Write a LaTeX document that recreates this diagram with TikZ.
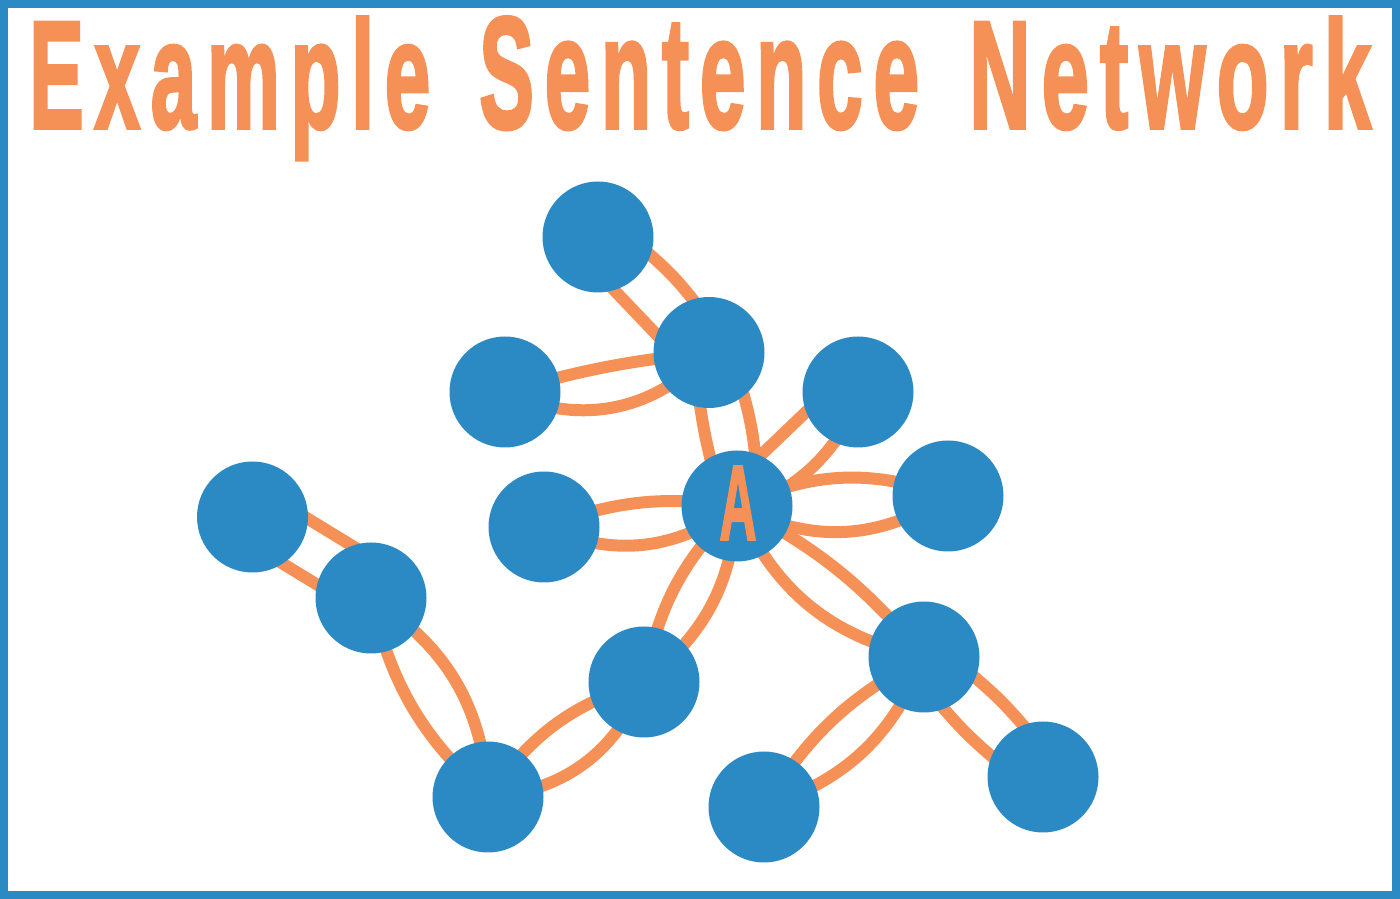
\documentclass[tikz,border=0pt]{standalone}
\usepackage{fontspec}
\setmainfont{Liberation Sans}
\newfontfamily\titlefont{Liberation Sans}[LetterSpace=13,FakeBold=2.5]
\newfontfamily\labelfont{Liberation Sans}[FakeBold=2.5]
\definecolor{netorange}{RGB}{245,145,86}
\definecolor{netblue}{RGB}{43,137,196}
\pgfdeclarelayer{edgelayer}
\pgfsetlayers{edgelayer,main}
\begin{document}
\begin{tikzpicture}[x=1pt,y=1pt,
  dot/.style={circle,fill=netblue,minimum size=111pt,inner sep=0pt},
  ln/.style={draw=netorange,line width=12pt},
  sl/.style={draw=netorange,line width=12pt,shorten <=-15pt,shorten >=-15pt},
  word/.style={anchor=base west,inner sep=0pt,text=netorange},
  frame/.style={draw=netblue,line width=8pt}]
\useasboundingbox (0,0) rectangle (1400,899);
\draw[frame] (4,4) rectangle (1396,895);
% title
\node[word] (w1) at (29,771) {\resizebox{401pt}{111pt}{\titlefont\bfseries Example}};
\node[word] (w2) at (479,771) {\resizebox{440pt}{111pt}{\titlefont\bfseries Sentence}};
\node[word] (w3) at (969,771) {\resizebox{402pt}{111pt}{\titlefont\bfseries Network}};
% nodes
\node[dot] (n1) at (598,662) {};
\node[dot] (n2) at (709,546.5) {};
\node[dot] (n3) at (505,507) {};
\node[dot] (n4) at (858,507) {};
\node[dot] (nA) at (737,393) {};
\node[dot] (n6) at (544,372) {};
\node[dot] (n7) at (948,403) {};
\node[dot] (n8) at (252.5,382) {};
\node[dot] (n9) at (371,301) {};
\node[dot] (n10) at (644,217) {};
\node[dot] (n11) at (924,242) {};
\node[dot] (n12) at (488,102) {};
\node[dot] (n13) at (764,92) {};
\node[dot] (n14) at (1043,122) {};
\node[inner sep=0pt,text=netorange] (lblA) at ([xshift=1pt,yshift=3pt]nA.center) {\resizebox{37pt}{73pt}{\labelfont\bfseries A}};
% edges
\begin{pgfonlayer}{edgelayer}
\draw[sl] (n1.-19) to[bend left=6] (n2.107);
\draw[sl] (n1.-73) -- (n2.161);
\draw[ln] (n3.center) to[bend left=5] (n2.center);
\draw[ln] (n3.center) to[bend right=36] (n2.center);
\draw[sl] (n2.-51) to[bend left=5] (nA.71);
\draw[sl] (n2.-99) to[bend right=3] (nA.119);
\draw[sl] (nA.65) -- (n4.201);
\draw[sl] (nA.21) to[bend right=10] (n4.245);
\draw[ln] (n6.center) to[bend left=14] (nA.center);
\draw[ln] (n6.center) to[bend right=30] (nA.center);
\draw[ln] (nA.center) to[bend left=22] (n7.center);
\draw[ln] (nA.center) to[bend right=30] (n7.center);
\draw[ln] (nA.center) to[bend left=24] (n10.center);
\draw[ln] (nA.center) to[bend right=17] (n10.center);
\draw[ln] (nA.center) to[bend left=11] (n11.center);
\draw[ln] (nA.center) to[bend right=27] (n11.center);
\draw[sl] (n8.-2) -- (n9.110);
\draw[sl] (n8.-57) -- (n9.166);
\draw[ln] (n9.center) to[bend left=27] (n12.center);
\draw[ln] (n9.center) to[bend right=17] (n12.center);
\draw[ln] (n12.center) to[bend left=19] (n10.center);
\draw[ln] (n12.center) to[bend right=32] (n10.center);
\draw[ln] (n13.center) to[bend left=15] (n11.center);
\draw[ln] (n13.center) to[bend right=25] (n11.center);
\draw[sl] (n11.-22) to[bend left=5] (n14.111);
\draw[sl] (n11.-69) to[bend right=5] (n14.158);
\end{pgfonlayer}
\end{tikzpicture}
\end{document}
